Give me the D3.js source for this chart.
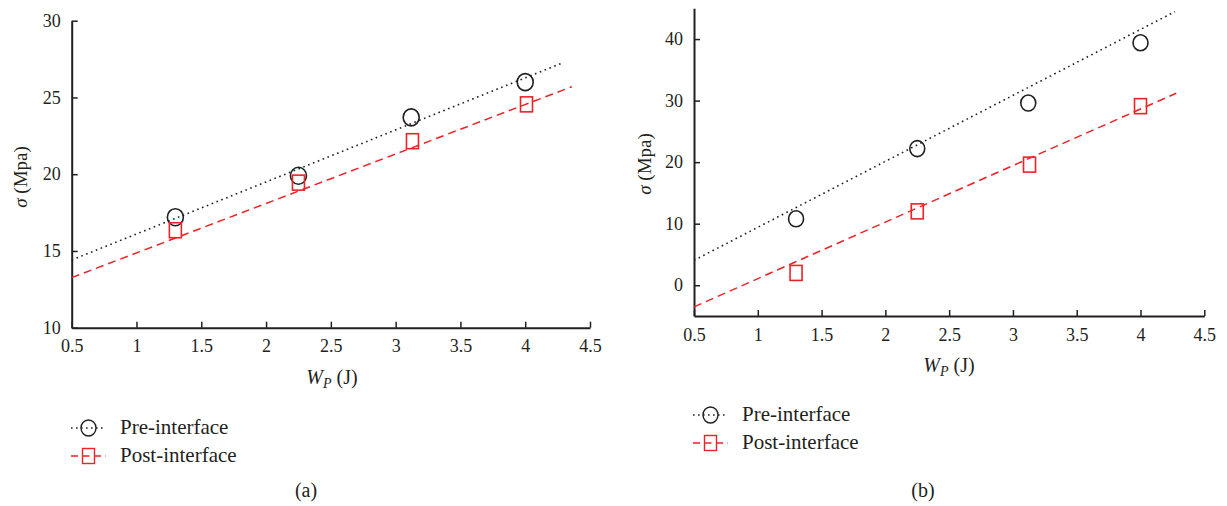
<!DOCTYPE html>
<html>
<head>
<meta charset="utf-8">
<script src="https://cdn.jsdelivr.net/npm/d3@7/dist/d3.min.js"></script>
<style>
  html, body { margin: 0; padding: 0; background: #fff; }
  svg text { font-family: "Liberation Serif", "DejaVu Serif", serif; fill: #231f20; }
</style>
</head>
<body>
<svg id="fig" width="1227" height="506"></svg>
<script>
// Impact energy W_P (J)
const energyA = [1.3, 2.25, 3.12, 4.0];
const energyPostA = [1.3, 2.25, 3.13, 4.01];
const energyB = [1.3, 2.25, 3.12, 4.0];
const energyPostB = [1.3, 2.25, 3.13, 4.0];

// Stress sigma (MPa), panel (a)
const preA = [17.2, 19.9, 23.7, 26.0];
const postA = [16.35, 19.45, 22.15, 24.55];
// Stress sigma (MPa), panel (b)
const preB = [10.8, 22.2, 29.6, 39.4];
const postB = [2.0, 12.0, 19.6, 29.1];

// Linear trend lines: [x, sigma] endpoints
const preFitA = [[0.5, 14.41], [4.29, 27.26]];
const postFitA = [[0.5, 13.26], [4.36, 25.70]];
const preFitB = [[0.5, 4.05], [4.27, 44.46]];
const postFitB = [[0.5, -3.52], [4.28, 31.2]];

// Axis ticks
const xTicks = [0.5, 1, 1.5, 2, 2.5, 3, 3.5, 4, 4.5];
const yTicksA = [10, 15, 20, 25, 30];
const yTicksB = [0, 10, 20, 30, 40];

const seriesNames = ["Pre-interface", "Post-interface"];

const INK = "#231f20";
const RED = "#ec2227";
const svg = d3.select("#fig");

function panel(cfg) {
  const x = d3.scaleLinear().domain([0.5, 4.5]).range([cfg.left, cfg.right]);
  const y = d3.scaleLinear().domain(cfg.yDomain).range([cfg.bottom, cfg.top]);
  const g = svg.append("g");

  // axes with inward ticks
  const xAxis = d3.axisBottom(x).tickValues(xTicks).tickSize(-6).tickSizeOuter(0)
    .tickPadding(12).tickFormat(d3.format("~g"));
  const yAxis = d3.axisLeft(y).tickValues(cfg.yTicks).tickSize(-6).tickSizeOuter(0)
    .tickPadding(11).tickFormat(d3.format("~g"));

  const gx = g.append("g").attr("transform", `translate(0,${cfg.bottom})`).call(xAxis);
  const gy = g.append("g").attr("transform", `translate(${cfg.left},0)`).call(yAxis);
  [gx, gy].forEach(a => {
    a.attr("font-family", null);
    a.select(".domain").attr("stroke", INK).attr("stroke-width", 2);
    a.selectAll(".tick line").attr("stroke", INK).attr("stroke-width", 1.5);
    a.selectAll(".tick text").attr("fill", INK).style("font-size", "18px");
  });

  const line = d3.line().x(d => x(d[0])).y(d => y(d[1]));

  // trend lines
  g.append("path").datum(cfg.preFit).attr("d", line)
    .attr("fill", "none").attr("stroke", INK).attr("stroke-width", 1.6)
    .attr("stroke-dasharray", "1.6,3.6");
  g.append("path").datum(cfg.postFit).attr("d", line)
    .attr("fill", "none").attr("stroke", RED).attr("stroke-width", 1.5)
    .attr("stroke-dasharray", "8,5");

  // measured points
  g.selectAll(".pre").data(cfg.pre).enter().append("ellipse")
    .attr("cx", (d, i) => x(cfg.preX[i])).attr("cy", d => y(d))
    .attr("rx", cfg.rx).attr("ry", cfg.ry)
    .attr("fill", "none").attr("stroke", INK).attr("stroke-width", 1.6);
  g.selectAll(".post").data(cfg.post).enter().append("rect")
    .attr("x", (d, i) => x(cfg.postX[i]) - 6).attr("y", d => y(d) - 7.5)
    .attr("width", 12).attr("height", 15)
    .attr("fill", "none").attr("stroke", RED).attr("stroke-width", 1.6);

  // axis titles
  const yl = g.append("text")
    .attr("transform", `translate(${cfg.yLabelX},${cfg.yLabelY}) rotate(-90)`)
    .attr("text-anchor", "middle").style("font-size", "19px");
  yl.append("tspan").style("font-style", "italic").text("σ");
  yl.append("tspan").text(" (Mpa)");

  const xl = g.append("text").attr("x", cfg.xLabelX).attr("y", cfg.xLabelY)
    .attr("text-anchor", "middle").style("font-size", "20px");
  xl.append("tspan").style("font-style", "italic").text("W");
  xl.append("tspan").style("font-style", "italic").style("font-size", "14px")
    .attr("dy", "4").text("P");
  xl.append("tspan").attr("dy", "-4").text(" (J)");

  // legend
  const lg = g.append("g");
  seriesNames.forEach((name, i) => {
    const ly = cfg.legendY + i * cfg.legendGap;
    const lx = cfg.legendX;
    const isPre = i === 0;
    lg.append("line").attr("x1", lx).attr("x2", lx + 35).attr("y1", ly).attr("y2", ly)
      .attr("stroke", isPre ? INK : RED).attr("stroke-width", 1.5)
      .attr("stroke-dasharray", isPre ? "1.6,3.4" : "7,4.5");
    if (isPre) {
      lg.append("ellipse").attr("cx", lx + 17.5).attr("cy", ly).attr("rx", 7.5).attr("ry", 8)
        .attr("fill", "none").attr("stroke", INK).attr("stroke-width", 1.4);
    } else {
      lg.append("rect").attr("x", lx + 11.5).attr("y", ly - 7.5).attr("width", 12).attr("height", 15)
        .attr("fill", "none").attr("stroke", RED).attr("stroke-width", 1.4);
    }
    lg.append("text").attr("x", lx + 49).attr("y", ly + 6)
      .style("font-size", "21px").text(name);
  });

  g.append("text").attr("x", cfg.captionX).attr("y", 497)
    .attr("text-anchor", "middle").style("font-size", "20px").text(cfg.caption);
}

panel({
  left: 71.7, right: 590, top: 20.7, bottom: 327.7,
  yDomain: [10, 30], yTicks: yTicksA,
  preX: energyA, pre: preA, postX: energyPostA, post: postA,
  preFit: preFitA, postFit: postFitA, rx: 8, ry: 8.5,
  yLabelX: 27, yLabelY: 177, xLabelX: 332, xLabelY: 384,
  legendX: 71, legendY: 428, legendGap: 28, caption: "(a)", captionX: 306
});

panel({
  left: 694, right: 1204.3, top: 8.3, bottom: 316,
  yDomain: [-5, 45], yTicks: yTicksB,
  preX: energyB, pre: preB, postX: energyPostB, post: postB,
  preFit: preFitB, postFit: postFitB, rx: 7.5, ry: 8,
  yLabelX: 651, yLabelY: 164, xLabelX: 949, xLabelY: 372,
  legendX: 693, legendY: 415, legendGap: 28, caption: "(b)", captionX: 923
});
</script>
</body>
</html>
